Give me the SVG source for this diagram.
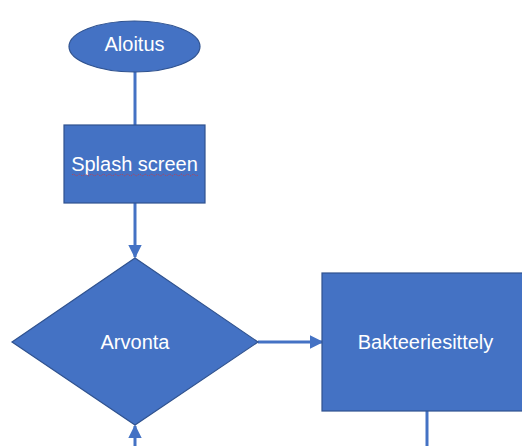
<svg xmlns="http://www.w3.org/2000/svg" width="522" height="446" viewBox="0 0 522 446">
<defs>
<style>
.shape{fill:#4472C4;stroke:#2F528F;stroke-width:1.2}
.lbl{fill:#FFFFFF;font-family:"Liberation Sans",Arial,sans-serif;font-size:20px;text-anchor:middle;dominant-baseline:central}
.conn{stroke:#4472C4;stroke-width:3;fill:none}
</style>
<marker id="arr" viewBox="0 0 10 10" refX="9" refY="5" markerWidth="4.5" markerHeight="4.5" markerUnits="strokeWidth" orient="auto">
<path d="M0,0 L10,5 L0,10 z" fill="#4472C4"/>
</marker>
</defs>
<rect width="522" height="446" fill="#FFFFFF"/>
<g id="connectors">
<line class="conn" x1="135" y1="72" x2="135" y2="125"/>
<line class="conn" x1="135" y1="203" x2="135" y2="257" marker-end="url(#arr)"/>
<line class="conn" x1="258" y1="342" x2="322" y2="342" marker-end="url(#arr)"/>
<line class="conn" x1="135" y1="446" x2="135" y2="426" marker-end="url(#arr)"/>
<line class="conn" x1="427" y1="411" x2="427" y2="446"/>
</g>
<g id="aloitus">
<ellipse class="shape" cx="134.5" cy="46.5" rx="65.5" ry="25.5"/>
<text class="lbl" x="134.5" y="44">Aloitus</text>
</g>
<g id="splash">
<rect class="shape" x="64" y="125" width="141" height="78"/>
<text class="lbl" x="134.5" y="164">Splash screen</text>
<path d="M72,175 q1.5,-1.5 3,0 t3,0 t3,0 t3,0 t3,0 t3,0 t3,0 t3,0 t3,0 t3,0 t3,0 t3,0 t3,0 t3,0 t3,0 t3,0 t3,0 t3,0 t3,0 t3,0 t3,0 t3,0 t3,0 t3,0 t3,0 t3,0 t3,0 t3,0 t3,0 t3,0 t3,0 t3,0 t3,0 t3,0 t3,0 t3,0 t3,0 t3,0 t3,0 t3,0 t3,0 t3,0" fill="none" stroke="#E03030" stroke-width="0.8" stroke-dasharray="1 1"/>
</g>
<g id="arvonta">
<polygon class="shape" points="135,258 258,342 135,425 12,342"/>
<text class="lbl" x="135" y="342">Arvonta</text>
</g>
<g id="bakteeriesittely">
<rect class="shape" x="322" y="273" width="206" height="138"/>
<text class="lbl" x="425.5" y="342">Bakteeriesittely</text>
</g>
</svg>
